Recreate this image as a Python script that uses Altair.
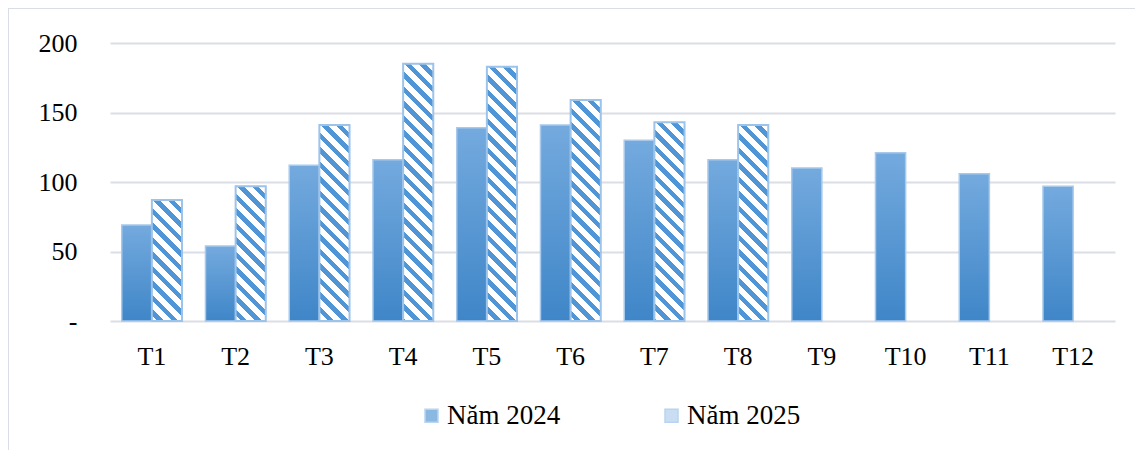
import altair as alt
import pandas as pd

# ---- data ----
months = ["T1", "T2", "T3", "T4", "T5", "T6", "T7", "T8", "T9", "T10", "T11", "T12"]
v2024 = [69, 54, 112, 116, 139, 141, 130, 116, 110, 121, 106, 97]
v2025 = [87, 97, 141, 185, 183, 159, 143, 141]
series = ["Năm 2024", "Năm 2025"]
y_ticks = [0, 50, 100, 150, 200]

rows = []
for m, v in zip(months, v2024):
    rows.append({"month": m, "series": series[0], "value": v})
for m, v in zip(months, v2025):
    rows.append({"month": m, "series": series[1], "value": v})
df = pd.DataFrame(rows)

# ---- layout / style ----
PLOT_W, PLOT_H = 1005, 278
Y_MAX = 200
PAD_INNER = 0.28
FONT = "Liberation Serif"
FS = 26
STRIPE = "#5095d6"
GRID = "#dadee6"

step = PLOT_W / len(months)
bar_w = step * (1 - PAD_INNER) / 2

x_enc = alt.X(
    "month:N",
    sort=months,
    scale=alt.Scale(domain=months, paddingInner=PAD_INNER, paddingOuter=PAD_INNER / 2),
    axis=alt.Axis(title=None, labelAngle=0, ticks=False, domain=False, grid=False,
                  labelPadding=22, labelFont=FONT, labelFontSize=FS, labelColor="#000"),
)
xoff_enc = alt.XOffset("series:N", scale=alt.Scale(domain=series, paddingInner=0, paddingOuter=0))
y_enc = alt.Y(
    "value:Q",
    scale=alt.Scale(domain=[0, Y_MAX], nice=False),
    axis=alt.Axis(title=None, values=y_ticks, grid=True, gridColor=GRID, gridWidth=2,
                  domain=False, ticks=False, labelPadding=33, labelFont=FONT, labelFontSize=FS,
                  labelColor="#000",
                  labelExpr="datum.value == 0 ? '-\u00a0\u00a0' : datum.label"),
)

grad2024 = {
    "gradient": "linear", "x1": 0, "y1": 0, "x2": 0, "y2": 1,
    "stops": [{"offset": 0, "color": "#74aade"}, {"offset": 1, "color": "#3f86c8"}],
}

bars2024 = alt.Chart(df).transform_filter(
    alt.datum.series == series[0]
).mark_bar(fill=grad2024, stroke="#a8c9eb", strokeWidth=1.5).encode(
    x=x_enc, xOffset=xoff_enc, y=y_enc
)


def hatch_gradient(value, slope=1.0, period=14.5, blue=6.5):
    h = value * PLOT_H / Y_MAX
    r = slope * bar_w / h
    c = (1 + r) / (1 + r * r)
    a = c * r
    total = h + slope * bar_w
    stops = []
    t = 0.0
    while t < total:
        w_end = min(t + period - blue, total)
        b_end = min(t + period, total)
        stops += [
            {"offset": round(t / total, 5), "color": "#ffffff"},
            {"offset": round(w_end / total, 5), "color": "#ffffff"},
            {"offset": round(w_end / total, 5), "color": STRIPE},
            {"offset": round(b_end / total, 5), "color": STRIPE},
        ]
        t += period
    return {"gradient": "linear", "x1": 1, "y1": 0, "x2": round(1 - a, 5), "y2": round(c, 5),
            "stops": stops}


hatch_layers = []
for m, v in zip(months, v2025):
    hatch_layers.append(
        alt.Chart(df).transform_filter(
            (alt.datum.series == series[1]) & (alt.datum.month == m)
        ).mark_bar(fill=hatch_gradient(v), stroke="#9cc3ea", strokeWidth=2).encode(
            x=x_enc, xOffset=xoff_enc, y=y_enc
        )
    )

legend_layer = alt.Chart(df).transform_filter("false").mark_square(
    stroke="#9cc3ea", strokeWidth=1.5
).encode(
    color=alt.Color(
        "series:N",
        scale=alt.Scale(domain=series, range=["#5b9bd5", "#b3d1ef"]),
        legend=alt.Legend(title=None, orient="none", legendX=308, legendY=359,
                          direction="horizontal", symbolType="square", symbolSize=169,
                          symbolStrokeWidth=1.5, labelFont=FONT, labelFontSize=27,
                          labelColor="#000", labelOffset=2, columnPadding=97, padding=0,
                          labelLimit=300),
    )
)

frame_df = pd.DataFrame({"k": [0]})
frame_left = alt.Chart(frame_df).mark_rule(color="#d9dee6", strokeWidth=2).encode(
    x=alt.value(-102), y=alt.value(-35), y2=alt.value(PLOT_H + 129)
)
frame_top = alt.Chart(frame_df).mark_rule(color="#d9dee6", strokeWidth=2).encode(
    x=alt.value(-103), x2=alt.value(PLOT_W + 20), y=alt.value(-35)
)

chart = alt.layer(
    frame_left, frame_top, bars2024, *hatch_layers, legend_layer
).properties(
    width=PLOT_W, height=PLOT_H,
    padding={"left": 102, "top": 35, "right": 20, "bottom": 129},
    autosize=alt.AutoSizeParams(type="none"),
).configure_view(stroke=None)

chart.save("out.html", embed_options={"renderer": "svg", "actions": False})
